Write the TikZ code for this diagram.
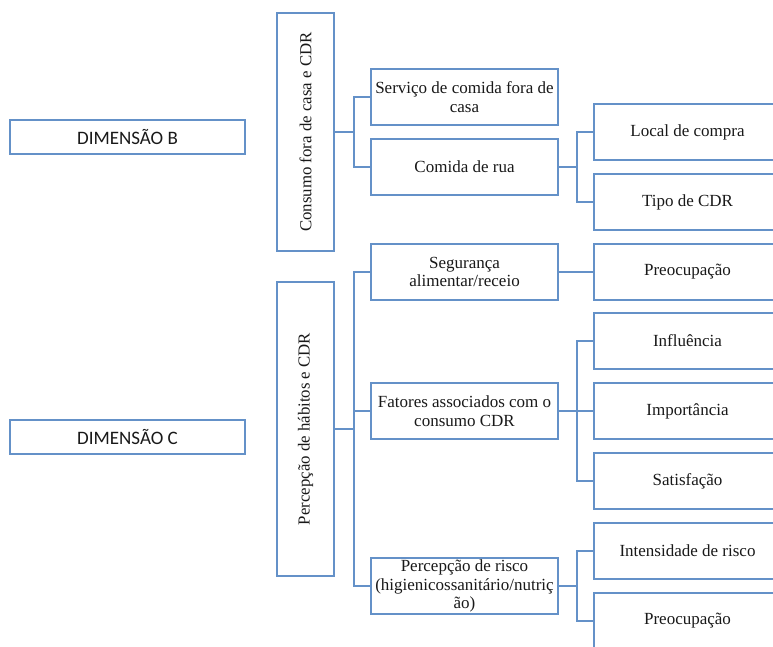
\documentclass[tikz,border=0pt]{standalone}
\usepackage{fontspec}
\setmainfont{Liberation Serif}
\newfontfamily\dimfont{Carlito}
\definecolor{boxblue}{RGB}{100,145,200}
\definecolor{txt}{RGB}{25,25,25}
\begin{document}
\begin{tikzpicture}[x=1pt,y=-1pt,
  box/.style={draw=boxblue, line width=1.5pt, fill=white, inner sep=0pt, align=center,
    text=txt, font=\fontsize{17}{18.5}\selectfont},
  mid/.style={box, minimum width=187pt, minimum height=56pt},
  leaf/.style={box, minimum width=187pt, minimum height=56pt},
  dim/.style={box, minimum width=235pt, minimum height=34pt, font=\dimfont\fontsize{19}{21}\selectfont},
  vtext/.style={rotate=90, text=txt, font=\fontsize{16.8}{19}\selectfont},
  conn/.style={draw=boxblue, line width=1.5pt}]
\useasboundingbox (0,0) rectangle (773,646);
\clip (0,0) rectangle (773,646);
% dimensions
\node[dim] (dimB) at (127.5,137) {DIMENSÃO B};
\node[dim] (dimC) at (127.5,437) {DIMENSÃO C};
% vertical boxes
\node[box, minimum width=57pt, minimum height=238pt] (consumo) at (305.5,132) {};
\node[vtext] (consumoT) at (consumo.center) {Consumo fora de casa e CDR};
\node[box, minimum width=57pt, minimum height=294pt] (percep) at (305.5,429) {};
\node[vtext] (percepT) at (percep.center) {Percepção de hábitos e CDR};
% middle column
\node[mid] (servico) at (464.5,97) {Serviço de comida fora de\\casa};
\node[mid] (comida) at (464.5,167) {Comida de rua};
\node[mid] (seg) at (464.5,272) {Segurança\\alimentar/receio};
\node[mid] (fatores) at (464.5,411) {Fatores associados com o\\consumo CDR};
\node[mid] (risco) at (464.5,586) {Percepção de risco\\(higienicossanitário/nutriç\\ão)};
% right column
\node[leaf] (local) at (687.5,132) {Local de compra};
\node[leaf] (tipo) at (687.5,202) {Tipo de CDR};
\node[leaf] (preoc1) at (687.5,272) {Preocupação};
\node[leaf] (infl) at (687.5,341) {Influência};
\node[leaf] (imp) at (687.5,411) {Importância};
\node[leaf] (sat) at (687.5,481) {Satisfação};
\node[leaf] (inten) at (687.5,551) {Intensidade de risco};
\node[leaf] (preoc2) at (687.5,621) {Preocupação};
% connectors
\coordinate (cj) at ([xshift=19pt]consumo.east);
\draw[conn] (consumo.east) -- (cj) |- (servico.west);
\draw[conn] (cj) |- (comida.west);
\coordinate (pj) at ([xshift=19pt]percep.east);
\draw[conn] (percep.east) -- (pj) |- (seg.west);
\draw[conn] (pj) |- (fatores.west);
\draw[conn] (pj) |- (risco.west);
\coordinate (rj) at ([xshift=18pt]comida.east);
\draw[conn] (comida.east) -- (rj) |- (local.west);
\draw[conn] (rj) |- (tipo.west);
\draw[conn] (seg.east) -- (preoc1.west);
\coordinate (fj) at ([xshift=18pt]fatores.east);
\draw[conn] (fatores.east) -- (fj) |- (infl.west);
\draw[conn] (fj) |- (imp.west);
\draw[conn] (fj) |- (sat.west);
\coordinate (kj) at ([xshift=18pt]risco.east);
\draw[conn] (risco.east) -- (kj) |- (inten.west);
\draw[conn] (kj) |- (preoc2.west);
\end{tikzpicture}
\end{document}
